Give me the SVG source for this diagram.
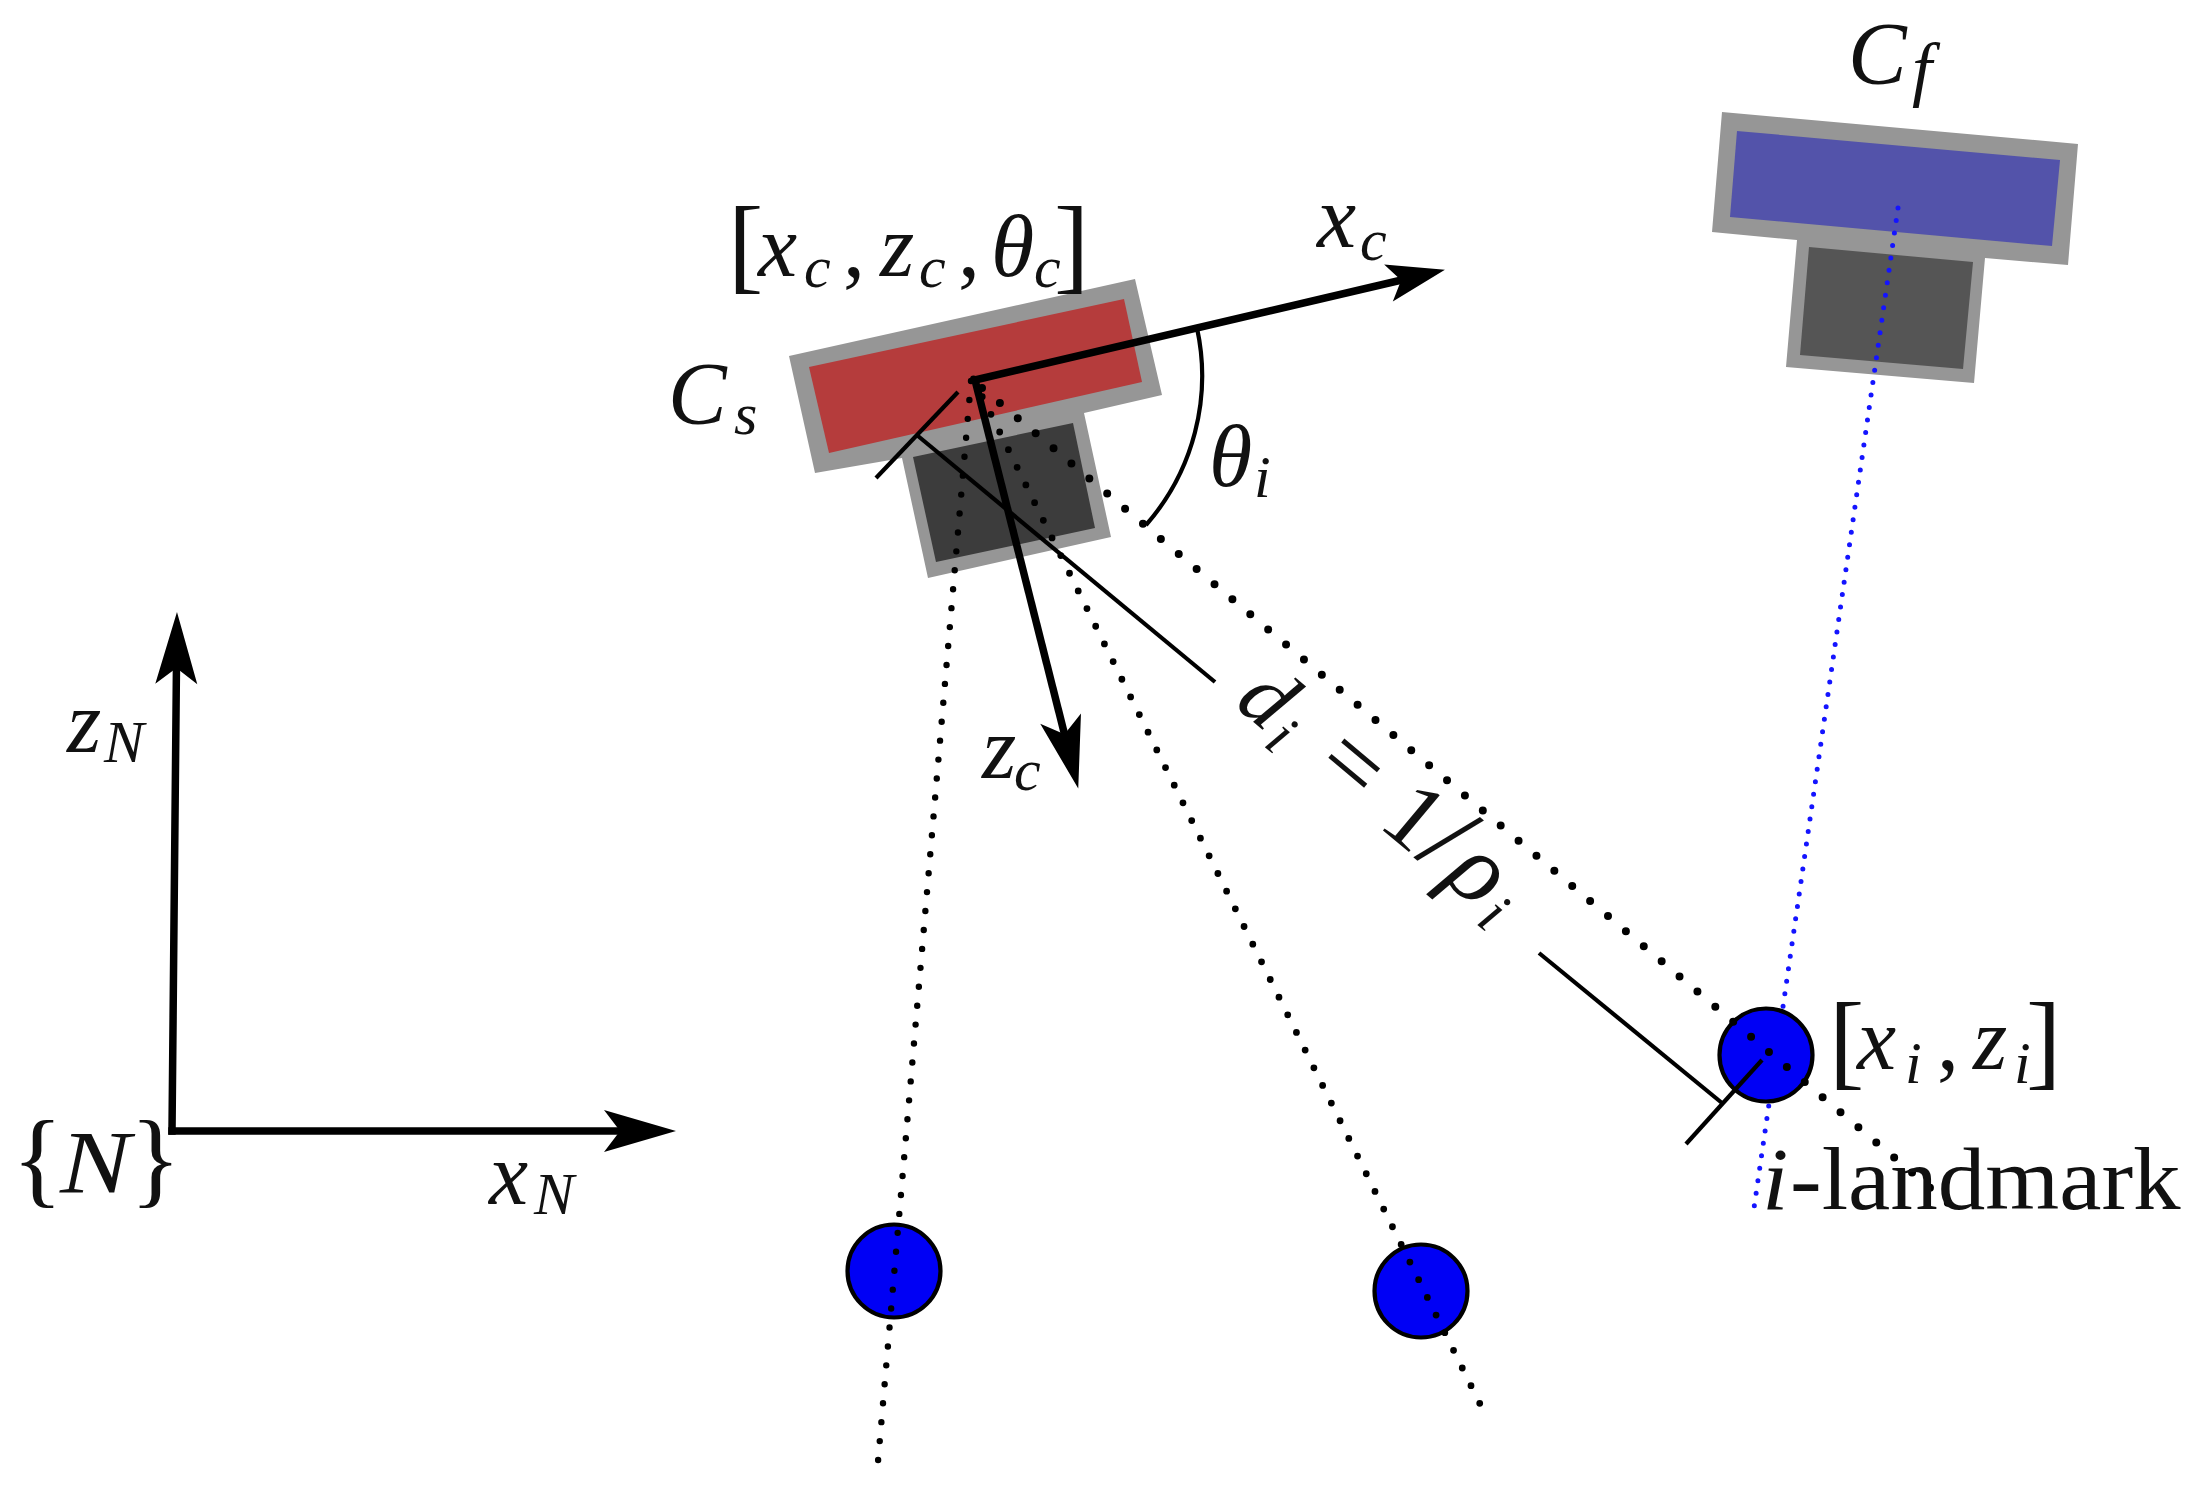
<svg xmlns="http://www.w3.org/2000/svg" width="2210" height="1506" viewBox="0 0 2210 1506">
<style>
text{font-family:"Liberation Serif","Times New Roman",serif;fill:#111}
.m{font-style:italic;font-size:88px}
.s{font-style:italic;font-size:60px}
.r{font-style:normal;font-size:88px}
.b{font-style:normal;font-size:106px}
.ax{fill:none;stroke:#000;stroke-width:7.5;stroke-linejoin:miter}
.thin{fill:none;stroke:#000;stroke-width:4.2}
.gray{fill:#969696}
.dot{fill:none;stroke:#000;stroke-linecap:round}
.lm{fill:#0000f5;stroke:#000;stroke-width:4.2}
</style>
<defs>
<marker id="headL" markerUnits="userSpaceOnUse" viewBox="-30 -25 85 50" refX="0" refY="0" markerWidth="85" markerHeight="50" orient="auto"><path d="M50 0L-22 -21L-6 0L-22 21Z" fill="#000"/></marker>
<marker id="headS" markerUnits="userSpaceOnUse" viewBox="-30 -25 85 50" refX="0" refY="0" markerWidth="85" markerHeight="50" orient="auto"><path d="M40 0L-18 -19L-5 0L-18 19Z" fill="#000"/></marker>
</defs>
<rect width="2210" height="1506" fill="#fff"/>
<g id="camera-s">
<path class="gray" d="M789 356L1135 279L1162 395L1084 413L1111 537L928 578L902 458L815 473Z"/>
<path d="M809 367L1124 299L1142 382L829 453Z" fill="#b53c3c"/>
<path d="M913 457L1073 423L1095 528L936 562Z" fill="#3c3c3c"/>
</g>
<g id="camera-f">
<path class="gray" d="M1722 112L2078 144L2068 265L1985 258L1974 383L1786 367L1797 240L1712 232Z"/>
<path d="M1737 131L2060 160L2052 246L1730 217Z" fill="#5353aa"/>
<path d="M1809 247L1973 262L1963 369L1800 355Z" fill="#555"/>
</g>
<g id="connectors-blue">
<path d="M1898 208L1754 1208" fill="none" stroke="#1414ff" stroke-width="5" stroke-linecap="round" stroke-dasharray="0 12.6"/>
</g>
<g id="landmark-i"><circle class="lm" cx="1766" cy="1055" r="46.5"/></g>
<g id="landmark-2"><circle class="lm" cx="894" cy="1271" r="46.5"/></g>
<g id="landmark-3"><circle class="lm" cx="1421" cy="1291" r="46.5"/></g>
<g id="connectors">
<path class="dot" d="M971 381L877 1473" stroke-width="6.4" stroke-dasharray="0 19"/>
<path class="dot" d="M973.500 379L1484 1412" stroke-width="6.8" stroke-dasharray="0 19.700"/>
<path class="dot" d="M982 388L1954 1208" stroke-width="8" stroke-dasharray="0 23.400"/>
<path class="thin" d="M958 392L876 478"/>
<path class="thin" d="M918 436L1215 682"/>
<path class="thin" d="M1539 953L1722 1103"/>
<path class="thin" d="M1762 1060L1686 1144"/>
<path class="thin" d="M1197 328A226 226 0 0 1 1146 525"/>
<path class="ax" d="M975 380L1406 279" marker-end="url(#headS)"/>
<path class="ax" d="M975 380L1066 740" marker-end="url(#headL)"/>
<path class="ax" d="M172 1131L176.500 662" stroke-linecap="square" marker-end="url(#headL)"/>
<path class="ax" d="M172 1131L626 1131" stroke-linecap="square" marker-end="url(#headL)"/>
</g>
<g id="label-n"><text class="b" x="12" y="1194">{</text><text class="m" transform="translate(60 1192) scale(1.2 1)">N</text><text class="b" x="130" y="1194">}</text></g>
<g id="label-xn"><text><tspan class="m" x="489" y="1204">x</tspan><tspan class="s" x="534" y="1214">N</tspan></text></g>
<g id="label-zn"><text><tspan class="m" x="67" y="752">z</tspan><tspan class="s" x="104" y="762">N</tspan></text></g>
<g id="label-pose"><text><tspan class="b" x="728" y="279.500">[</tspan><tspan class="m" x="758" y="276">x</tspan><tspan class="s" x="804" y="287">c</tspan><tspan class="r" x="843" y="276">,</tspan><tspan class="m" x="880" y="276">z</tspan><tspan class="s" x="919" y="287">c</tspan><tspan class="r" x="958" y="276">,</tspan><tspan class="m" x="991" y="276">θ</tspan><tspan class="s" x="1034" y="287">c</tspan><tspan class="b" x="1054" y="279.500">]</tspan></text></g>
<g id="label-cs"><text><tspan class="m" x="668" y="423">C</tspan><tspan class="s" x="734" y="434">s</tspan></text></g>
<g id="label-cf"><text><tspan class="m" x="1848" y="83">C</tspan><tspan class="s" x="1912" y="93" style="font-size:72px">f</tspan></text></g>
<g id="label-xc"><text><tspan class="m" x="1317" y="247">x</tspan><tspan class="s" x="1360" y="260">c</tspan></text></g>
<g id="label-zc"><text><tspan class="m" x="982" y="778">z</tspan><tspan class="s" x="1014" y="790">c</tspan></text></g>
<g id="label-theta"><text><tspan class="m" x="1209" y="486">θ</tspan><tspan class="s" x="1254" y="497">i</tspan></text></g>
<g id="label-xi"><text><tspan class="b" x="1829" y="1075.500">[</tspan><tspan class="m" x="1857" y="1069">x</tspan><tspan class="s" x="1905" y="1083">i</tspan><tspan class="r" x="1937" y="1069">,</tspan><tspan class="m" x="1973" y="1069">z</tspan><tspan class="s" x="2014" y="1083">i</tspan><tspan class="b" x="2026" y="1075.500">]</tspan></text></g>
<g id="label-landmark"><text transform="translate(1762 1209) scale(1.08 1)"><tspan class="m">i</tspan><tspan class="r" x="26">-landmark</tspan></text></g>
<g id="label-depth"><text transform="translate(1233 705) rotate(39.9)"><tspan class="m" x="0" y="0">d</tspan><tspan class="s" x="48" y="12">i</tspan><tspan class="r" x="102" y="0" style="font-size:100px">=</tspan><tspan class="r" x="187" y="0" style="font-size:96px">1</tspan><tspan class="r" x="236" y="0" style="font-size:110px">/</tspan><tspan class="m" x="272" y="0" style="font-size:100px">ρ</tspan><tspan class="s" x="325" y="12">i</tspan></text></g>
</svg>
